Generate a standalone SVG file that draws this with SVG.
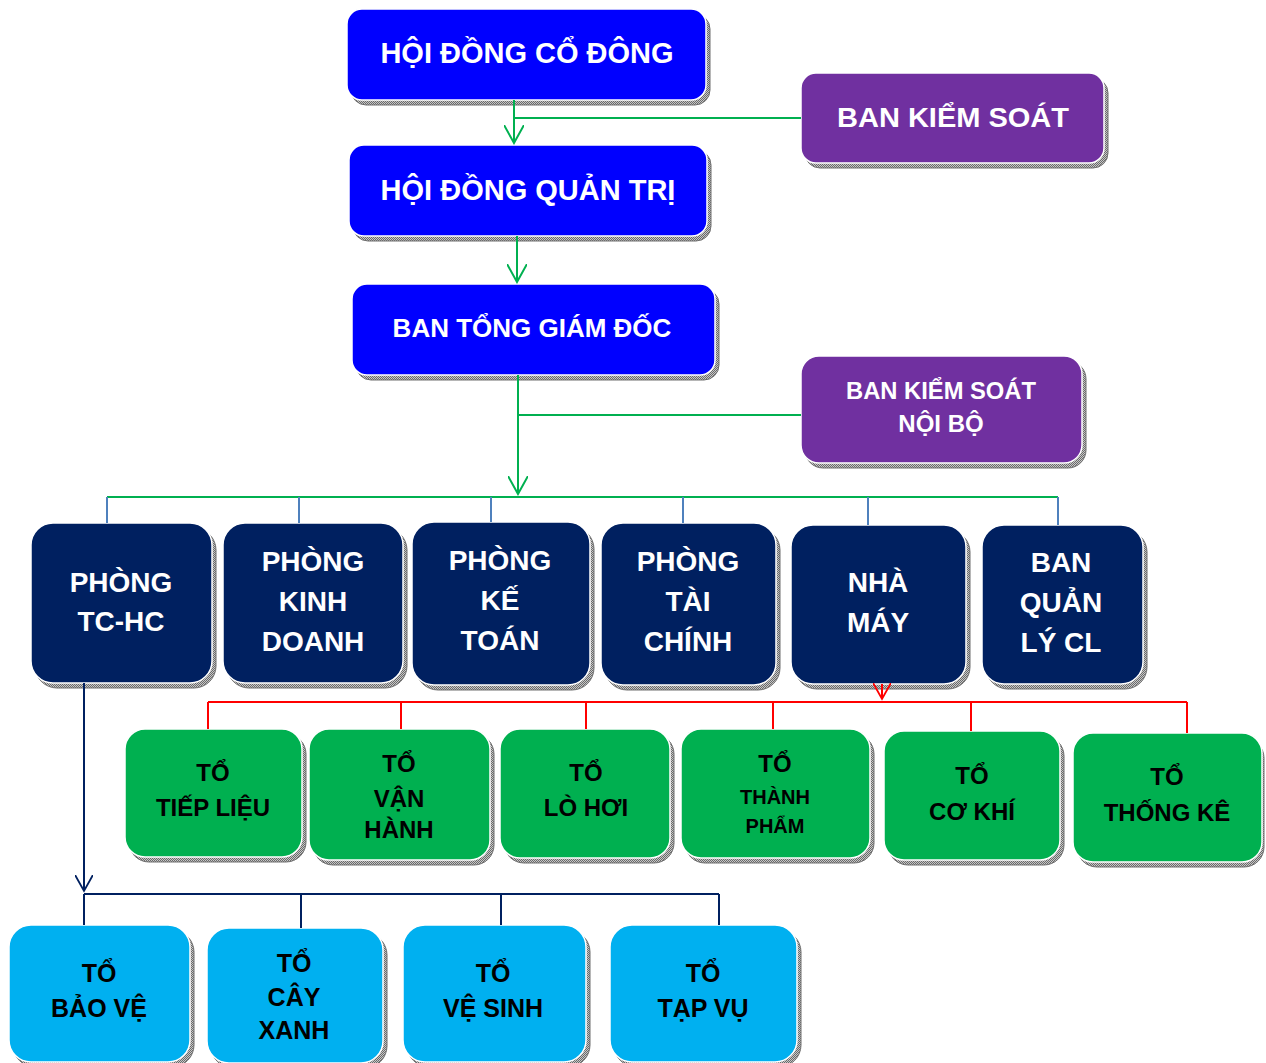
<svg xmlns="http://www.w3.org/2000/svg" width="1266" height="1063" viewBox="0 0 1266 1063">
<style>
.sh{fill:url(#dith);stroke:#6e6e6e;stroke-width:1}
.bx{stroke:#ffffff;stroke-width:1.5}
.top{fill:#0000FF}
.pur{fill:#7030A0}
.nav{fill:#002060}
.grn{fill:#00B050}
.cya{fill:#00B0F0}
.tw{font-family:"Liberation Sans",Arial,sans-serif;font-weight:bold;fill:#ffffff;text-anchor:middle}
.tb{font-family:"Liberation Sans Narrow","Arial Narrow","Liberation Sans",sans-serif;font-weight:bold;fill:#000000;text-anchor:middle}
.cg{stroke:#00B050;stroke-width:2;fill:none}
.cb{stroke:#4F81BD;stroke-width:2;fill:none}
.cr{stroke:#FF0000;stroke-width:2;fill:none}
.cn{stroke:#002060;stroke-width:2;fill:none}
</style>
<defs>
<pattern id="dith" width="2" height="2" patternUnits="userSpaceOnUse">
<rect width="2" height="2" fill="#c8c8c8"/>
<rect width="1" height="1" fill="#6a6a6a"/>
<rect x="1" y="1" width="1" height="1" fill="#6a6a6a"/>
</pattern>
<marker id="ag" viewBox="0 0 20 20" refX="18" refY="10" markerWidth="20" markerHeight="20" markerUnits="userSpaceOnUse" orient="auto"><path d="M0,0 L18,10 L0,20" fill="none" stroke="#00B050" stroke-width="2"/></marker>
<marker id="ar" viewBox="0 0 20 20" refX="18" refY="10" markerWidth="18" markerHeight="18" markerUnits="userSpaceOnUse" orient="auto"><path d="M0,0 L18,10 L0,20" fill="none" stroke="#FF0000" stroke-width="2"/></marker>
<marker id="an" viewBox="0 0 20 20" refX="18" refY="10" markerWidth="18" markerHeight="18" markerUnits="userSpaceOnUse" orient="auto"><path d="M0,0 L18,10 L0,20" fill="none" stroke="#002060" stroke-width="2"/></marker>
</defs>

<g id="hoi-dong-co-dong">
<rect class="sh" x="351" y="14" width="359" height="91" rx="15"/>
<rect class="bx top" x="347" y="9" width="359" height="91" rx="15"/>
<text class="tw" x="527" y="63" font-size="29">HỘI ĐỒNG CỔ ĐÔNG</text>
</g>
<g id="hoi-dong-quan-tri">
<rect class="sh" x="353" y="150" width="358" height="91" rx="15"/>
<rect class="bx top" x="349" y="145" width="358" height="91" rx="15"/>
<text class="tw" x="528" y="200" font-size="29">HỘI ĐỒNG QUẢN TRỊ</text>
</g>
<g id="ban-tong-giam-doc">
<rect class="sh" x="356" y="289" width="363" height="91" rx="15"/>
<rect class="bx top" x="352" y="284" width="363" height="91" rx="15"/>
<text class="tw" x="532" y="337" font-size="26">BAN TỔNG GIÁM ĐỐC</text>
</g>
<g id="ban-kiem-soat">
<rect class="sh" x="805" y="78" width="303" height="90" rx="15"/>
<rect class="bx pur" x="801" y="73" width="303" height="90" rx="15"/>
<text class="tw" x="953" y="127" font-size="28" textLength="232" lengthAdjust="spacingAndGlyphs">BAN KIỂM SOÁT</text>
</g>
<g id="ban-kiem-soat-noi-bo">
<rect class="sh" x="805" y="361" width="281" height="107" rx="18"/>
<rect class="bx pur" x="801" y="356" width="281" height="107" rx="18"/>
<text class="tw" x="941" y="399" font-size="24" textLength="190" lengthAdjust="spacingAndGlyphs">BAN KIỂM SOÁT</text>
<text class="tw" x="941" y="432" font-size="24">NỘI BỘ</text>
</g>

<g id="phong-tc-hc">
<rect class="sh" x="35" y="528" width="181" height="160" rx="22"/>
<rect class="bx nav" x="31" y="523" width="181" height="160" rx="22"/>
<text class="tw" x="121" y="592" font-size="28">PHÒNG</text>
<text class="tw" x="121" y="631" font-size="28">TC-HC</text>
</g>
<g id="phong-kinh-doanh">
<rect class="sh" x="227" y="528" width="180" height="160" rx="22"/>
<rect class="bx nav" x="223" y="523" width="180" height="160" rx="22"/>
<text class="tw" x="313" y="571" font-size="28">PHÒNG</text>
<text class="tw" x="313" y="611" font-size="28">KINH</text>
<text class="tw" x="313" y="651" font-size="28">DOANH</text>
</g>
<g id="phong-ke-toan">
<rect class="sh" x="416" y="527" width="178" height="163" rx="22"/>
<rect class="bx nav" x="412" y="522" width="178" height="163" rx="22"/>
<text class="tw" x="500" y="570" font-size="28">PHÒNG</text>
<text class="tw" x="500" y="610" font-size="28">KẾ</text>
<text class="tw" x="500" y="650" font-size="28">TOÁN</text>
</g>
<g id="phong-tai-chinh">
<rect class="sh" x="605" y="528" width="175" height="162" rx="22"/>
<rect class="bx nav" x="601" y="523" width="175" height="162" rx="22"/>
<text class="tw" x="688" y="571" font-size="28">PHÒNG</text>
<text class="tw" x="688" y="611" font-size="28">TÀI</text>
<text class="tw" x="688" y="651" font-size="28">CHÍNH</text>
</g>
<g id="nha-may">
<rect class="sh" x="795" y="530" width="175" height="159" rx="22"/>
<rect class="bx nav" x="791" y="525" width="175" height="159" rx="22"/>
<text class="tw" x="878" y="592" font-size="28">NHÀ</text>
<text class="tw" x="878" y="632" font-size="28">MÁY</text>
</g>
<g id="ban-quan-ly-cl">
<rect class="sh" x="986" y="530" width="161" height="159" rx="22"/>
<rect class="bx nav" x="982" y="525" width="161" height="159" rx="22"/>
<text class="tw" x="1061" y="572" font-size="28">BAN</text>
<text class="tw" x="1061" y="612" font-size="28">QUẢN</text>
<text class="tw" x="1061" y="652" font-size="28">LÝ CL</text>
</g>

<g id="to-tiep-lieu">
<rect class="sh" x="129" y="734" width="177" height="128" rx="20"/>
<rect class="bx grn" x="125" y="729" width="177" height="128" rx="20"/>
<text class="tb" x="213" y="781" font-size="24">TỔ</text>
<text class="tb" x="213" y="816" font-size="24">TIẾP LIỆU</text>
</g>
<g id="to-van-hanh">
<rect class="sh" x="313" y="734" width="181" height="131" rx="20"/>
<rect class="bx grn" x="309" y="729" width="181" height="131" rx="20"/>
<text class="tb" x="399" y="772" font-size="24">TỔ</text>
<text class="tb" x="399" y="807" font-size="24">VẬN</text>
<text class="tb" x="399" y="838" font-size="24">HÀNH</text>
</g>
<g id="to-lo-hoi">
<rect class="sh" x="504" y="734" width="170" height="129" rx="20"/>
<rect class="bx grn" x="500" y="729" width="170" height="129" rx="20"/>
<text class="tb" x="586" y="781" font-size="24">TỔ</text>
<text class="tb" x="586" y="816" font-size="24">LÒ HƠI</text>
</g>
<g id="to-thanh-pham">
<rect class="sh" x="685" y="734" width="189" height="129" rx="20"/>
<rect class="bx grn" x="681" y="729" width="189" height="129" rx="20"/>
<text class="tb" x="775" y="772" font-size="24">TỔ</text>
<text class="tb" x="775" y="804" font-size="20">THÀNH</text>
<text class="tb" x="775" y="833" font-size="20">PHẨM</text>
</g>
<g id="to-co-khi">
<rect class="sh" x="888" y="736" width="176" height="129" rx="20"/>
<rect class="bx grn" x="884" y="731" width="176" height="129" rx="20"/>
<text class="tb" x="972" y="784" font-size="24">TỔ</text>
<text class="tb" x="972" y="820" font-size="24">CƠ KHÍ</text>
</g>
<g id="to-thong-ke">
<rect class="sh" x="1077" y="738" width="187" height="129" rx="20"/>
<rect class="bx grn" x="1073" y="733" width="189" height="129" rx="20"/>
<text class="tb" x="1167" y="785" font-size="24">TỔ</text>
<text class="tb" x="1167" y="821" font-size="24">THỐNG KÊ</text>
</g>

<g id="to-bao-ve">
<rect class="sh" x="13" y="930" width="181" height="137" rx="22"/>
<rect class="bx cya" x="9" y="925" width="181" height="137" rx="22"/>
<text class="tb" x="99" y="982" font-size="25">TỔ</text>
<text class="tb" x="99" y="1017" font-size="25">BẢO VỆ</text>
</g>
<g id="to-cay-xanh">
<rect class="sh" x="211" y="933" width="176" height="135" rx="22"/>
<rect class="bx cya" x="207" y="928" width="176" height="135" rx="22"/>
<text class="tb" x="294" y="972" font-size="25">TỔ</text>
<text class="tb" x="294" y="1006" font-size="25">CÂY</text>
<text class="tb" x="294" y="1039" font-size="25">XANH</text>
</g>
<g id="to-ve-sinh">
<rect class="sh" x="407" y="930" width="183" height="137" rx="22"/>
<rect class="bx cya" x="403" y="925" width="183" height="137" rx="22"/>
<text class="tb" x="493" y="982" font-size="25">TỔ</text>
<text class="tb" x="493" y="1017" font-size="25">VỆ SINH</text>
</g>
<g id="to-tap-vu">
<rect class="sh" x="614" y="930" width="187" height="137" rx="22"/>
<rect class="bx cya" x="610" y="925" width="187" height="137" rx="22"/>
<text class="tb" x="703" y="982" font-size="25">TỔ</text>
<text class="tb" x="703" y="1017" font-size="25">TẠP VỤ</text>
</g>

<g id="connectors">
<path class="cg" d="M514,100 V143" marker-end="url(#ag)"/>
<path class="cg" d="M514,118 H801"/>
<path class="cg" d="M517,236 V282" marker-end="url(#ag)"/>
<path class="cg" d="M518,375 V494" marker-end="url(#ag)"/>
<path class="cg" d="M518,415 H801"/>
<path class="cg" d="M107,497 H1058"/>
<path class="cb" d="M107,497 V523 M299,497 V523 M491,497 V522 M683,497 V523 M868,497 V525 M1058,497 V525"/>
<path class="cr" d="M882,684 V699" marker-end="url(#ar)"/>
<path class="cr" d="M208,702 H1187 M208,702 V729 M401,702 V729 M586,702 V729 M773,702 V729 M971,702 V731 M1187,702 V733"/>
<path class="cn" d="M84,683 V891" marker-end="url(#an)"/>
<path class="cn" d="M84,894 H719 M84,894 V925 M301,894 V928 M501,894 V925 M719,894 V925"/>
</g>
</svg>
